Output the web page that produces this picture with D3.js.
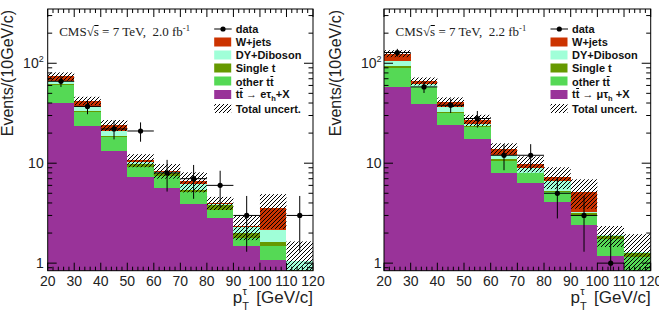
<!DOCTYPE html>
<html>
<head>
<meta charset="utf-8">
<script src="https://cdn.jsdelivr.net/npm/d3@7"></script>
<style>
  body { margin: 0; background: #fff; }
  svg { display: block; }
</style>
</head>
<body>
<div id="chart"></div>
<script>
// bins: low edges in GeV/c, each bin 10 wide
var binLo = [20, 30, 40, 50, 60, 70, 80, 90, 100, 110];
var binW = 10;
var xTickLabels = [20, 30, 40, 50, 60, 70, 80, 90, 100, 110, 120];
var yMajor = [1, 10, 100];

// e + tau_h channel (2.0 fb-1)
var eSignal  = [40, 23.8, 13.1, 7.2, 5.7, 3.9, 2.8, 1.47, 1.08, 0.4];
var eOtherTT = [20.7, 8.6, 5.1, 1.9, 1.8, 1.3, 0.6, 0.31, 0.39, 0.4];
var eSingleT = [1, 0.8, 0.5, 0.8, 0.5, 0.2, 0.45, 0.22, 0.17, 0.05];
var eDY      = [4, 3, 2.3, 0.4, 0.2, 0.8, 0.1, 0.3, 0.51, 0.2];
var eWjets   = [8.3, 6, 3, 0.4, 0.2, 0.4, 0.05, 0.05, 1.4, 0];
var eUnc     = [7, 4, 3, 1.6, 1.4, 1.5, 0.6, 0.65, 1.35, 0.6];
var eData    = [66, 37, 22, 21, 8, 7, 6, 3, null, 3];
var eDataErr = [8.1, 6.1, 4.7, 4.6, 2.8, 2.6, 2.4, 1.7, null, 1.7];

// mu + tau_h channel (2.2 fb-1)
var muSignal  = [57.5, 39.2, 24.2, 17.4, 7.9, 6.3, 4.1, 2.41, 1.18, 0.5];
var muOtherTT = [31.5, 18.3, 7.8, 5.5, 2.7, 1.6, 1.0, 0.63, 0.55, 0.65];
var muSingleT = [4, 1, 0.8, 0.4, 0.4, 0.1, 0.15, 0.1, 0.12, 0.1];
var muDY      = [12, 3, 3.5, 1.2, 1.0, 0.9, 1.45, 0.14, 0.05, 0.05];
var muWjets   = [20, 4.5, 4.7, 2.5, 2.0, 1.0, 0.6, 1.92, 0, 0];
var muUnc     = [10, 6, 4.5, 3.5, 1.8, 1.8, 1.8, 1.7, 0.45, 0.65];
var muData    = [128, 58, 38, 28, 12, 12, 5, 3, 1, null];
var muDataErr = [11.3, 7.6, 6.2, 5.3, 3.5, 3.5, 2.2, 1.7, 1.0, null];

// colours, bottom of the stack first
var stackColors = ["#993399", "#55d955", "#669900", "#a0ffd8", "#cc3300"];

var W = 659, H = 311;
var plotTop = 9, plotBottom = 270.7;
var yMin = 0.84, yMax = 349;

var svg = d3.select("#chart").append("svg")
  .attr("width", W).attr("height", H);
var defs = svg.append("defs");

// hatch for total uncertainty ("////")
defs.append("pattern")
  .attr("id", "hatch")
  .attr("patternUnits", "userSpaceOnUse")
  .attr("width", 4).attr("height", 4)
  .append("path")
  .attr("d", "M-1,1 l2,-2 M0,4 l4,-4 M3,5 l2,-2")
  .attr("stroke", "#000")
  .attr("stroke-width", 1);

// draw an overline above one character of a text element
function overline(textSel, idx, rise) {
  var node = textSel.node();
  var a = node.getStartPositionOfChar(idx);
  var b = node.getEndPositionOfChar(idx);
  textSel.select(function() { return this.parentNode; }).append("line")
    .attr("x1", a.x + 0.5).attr("x2", b.x - 0.3)
    .attr("y1", a.y - rise).attr("y2", a.y - rise)
    .attr("stroke", "#000").attr("stroke-width", 1);
}

function drawPanel(p) {
  var x = d3.scaleLinear().domain([20, 120]).range([p.x0, p.x1]);
  var y = d3.scaleLog().domain([yMin, yMax]).range([plotBottom, plotTop]);
  var g = svg.append("g");

  defs.append("clipPath").attr("id", "clip-" + p.id)
    .append("rect")
    .attr("x", p.x0).attr("y", plotTop)
    .attr("width", p.x1 - p.x0).attr("height", plotBottom - plotTop);
  var plot = g.append("g").attr("clip-path", "url(#clip-" + p.id + ")");

  // stacked histograms
  var layers = [p.signal, p.otherTT, p.singleT, p.dy, p.wjets];
  var base = binLo.map(function() { return 0; });
  layers.forEach(function(vals, k) {
    var rows = binLo.map(function(lo, i) {
      var r = { lo: lo, b: base[i], t: base[i] + vals[i] };
      base[i] = r.t;
      return r;
    }).filter(function(d) { return d.t > d.b; });

    plot.append("g").attr("shape-rendering", "crispEdges")
      .selectAll("rect")
      .data(rows)
      .enter().append("rect")
      .attr("x", function(d) { return x(d.lo); })
      .attr("width", function(d) { return x(d.lo + binW) - x(d.lo); })
      .attr("y", function(d) { return y(d.t); })
      .attr("height", function(d) { return y(Math.max(d.b, 0.1)) - y(d.t); })
      .attr("fill", stackColors[k]);
  });

  // total uncertainty band
  plot.append("g").selectAll("rect")
    .data(binLo.map(function(lo, i) {
      return { lo: lo, hi: base[i] + p.unc[i], low: Math.max(base[i] - p.unc[i], 0.1) };
    }))
    .enter().append("rect")
    .attr("x", function(d) { return x(d.lo); })
    .attr("width", function(d) { return x(d.lo + binW) - x(d.lo); })
    .attr("y", function(d) { return y(d.hi); })
    .attr("height", function(d) { return y(d.low) - y(d.hi); })
    .attr("fill", "url(#hatch)");

  // data points with error bars
  var pts = binLo.map(function(lo, i) {
    return { lo: lo, v: p.data[i], e: p.dataErr[i] };
  }).filter(function(d) { return d.v != null; });

  var dg = plot.append("g").selectAll("g").data(pts).enter().append("g");
  dg.append("line")
    .attr("x1", function(d) { return x(d.lo); })
    .attr("x2", function(d) { return x(d.lo + binW); })
    .attr("y1", function(d) { return y(d.v); })
    .attr("y2", function(d) { return y(d.v); })
    .attr("stroke", "#000").attr("stroke-width", 1);
  dg.append("line")
    .attr("x1", function(d) { return x(d.lo + binW / 2); })
    .attr("x2", function(d) { return x(d.lo + binW / 2); })
    .attr("y1", function(d) { return y(d.v + d.e); })
    .attr("y2", function(d) { return y(Math.max(d.v - d.e, 0.1)); })
    .attr("stroke", "#000").attr("stroke-width", 1);
  dg.append("circle")
    .attr("cx", function(d) { return x(d.lo + binW / 2); })
    .attr("cy", function(d) { return y(d.v); })
    .attr("r", 2.6)
    .attr("fill", "#000");

  // frame
  g.append("rect")
    .attr("x", p.x0).attr("y", plotTop)
    .attr("width", p.x1 - p.x0).attr("height", plotBottom - plotTop)
    .attr("fill", "none").attr("stroke", "#000").attr("stroke-width", 1);

  // x ticks, bottom and top, pointing inward
  var xt = d3.range(20, 121, 2);
  var ticks = g.append("g").attr("stroke", "#000").attr("stroke-width", 1);
  xt.forEach(function(v) {
    var len = (v % 10 === 0) ? 8 : 4;
    ticks.append("line").attr("x1", x(v)).attr("x2", x(v))
      .attr("y1", plotBottom).attr("y2", plotBottom - len);
    ticks.append("line").attr("x1", x(v)).attr("x2", x(v))
      .attr("y1", plotTop).attr("y2", plotTop + len);
  });

  // y ticks (log), left and right
  var yt = [];
  [0.1, 1, 10, 100].forEach(function(dec) {
    for (var m = 1; m <= 9; m++) {
      var v = dec * m;
      if (v >= yMin && v <= yMax) yt.push({ v: v, major: m === 1 });
    }
  });
  yt.forEach(function(t) {
    var len = t.major ? 9 : 4.5;
    ticks.append("line").attr("x1", p.x0).attr("x2", p.x0 + len)
      .attr("y1", y(t.v)).attr("y2", y(t.v));
    ticks.append("line").attr("x1", p.x1).attr("x2", p.x1 - len)
      .attr("y1", y(t.v)).attr("y2", y(t.v));
  });

  // x tick labels
  g.append("g").selectAll("text")
    .data(xTickLabels)
    .enter().append("text")
    .attr("x", function(d) { return x(d); })
    .attr("y", 286)
    .attr("text-anchor", "middle")
    .attr("font-family", "Liberation Sans, Arial, sans-serif")
    .attr("font-size", 14)
    .attr("fill", "#222")
    .text(function(d) { return d; });

  // y tick labels
  yMajor.forEach(function(v) {
    var t = g.append("text")
      .attr("x", p.x0 - p.labelGap)
      .attr("y", y(v) + 5)
      .attr("text-anchor", "end")
      .attr("font-family", "Liberation Sans, Arial, sans-serif")
      .attr("font-size", 14)
      .attr("fill", "#222");
    if (v === 100) {
      t.append("tspan").text("10");
      t.append("tspan").attr("dy", -6).attr("font-size", 9).text("2");
    } else {
      t.text(v);
    }
  });

  // y title
  g.append("text")
    .attr("transform", "translate(" + p.titleX + "," + 10 + ") rotate(-90)")
    .attr("text-anchor", "end")
    .attr("font-family", "Liberation Sans, Arial, sans-serif")
    .attr("font-size", 16)
    .attr("fill", "#222")
    .text("Events/(10GeV/c)");

  // x title: p_T^tau [GeV/c]
  var gv = g.append("text")
    .attr("x", p.x1).attr("y", 303)
    .attr("text-anchor", "end")
    .attr("font-family", "Liberation Sans, Arial, sans-serif")
    .attr("font-size", 17)
    .attr("fill", "#222")
    .text("[GeV/c]");
  var gvW = gv.node().getComputedTextLength();
  var pX = p.x1 - gvW - 23.5;
  g.append("text").attr("x", pX).attr("y", 303)
    .attr("font-family", "Liberation Sans, Arial, sans-serif")
    .attr("font-size", 17).attr("fill", "#222").text("p");
  g.append("text").attr("x", pX + 9.8).attr("y", 294.5)
    .attr("font-family", "Liberation Sans, Arial, sans-serif")
    .attr("font-size", 11).attr("fill", "#222").text("τ");
  g.append("text").attr("x", pX + 9.4).attr("y", 310)
    .attr("font-family", "Liberation Sans, Arial, sans-serif")
    .attr("font-size", 11).attr("fill", "#222").text("T");

  // CMS label
  var cms = g.append("text")
    .attr("x", p.x0 + 11.5).attr("y", 35.5)
    .attr("font-family", "Liberation Serif, Times New Roman, serif")
    .attr("font-size", 13)
    .attr("fill", "#222")
    .style("white-space", "pre");
  cms.append("tspan").text("CMS√s = 7 TeV,  " + p.lumi + " fb");
  cms.append("tspan").attr("dy", -5).attr("font-size", 8.5).text("-1");
  overline(cms, 4, 10);

  // legend
  var lx = p.x0 + 166.5, tx = p.x0 + 188;
  var rowsY = [29, 42, 55, 68, 81, 94.5, 108.5];
  var leg = g.append("g")
    .attr("font-family", "Liberation Sans, Arial, sans-serif")
    .attr("font-size", 11)
    .attr("font-weight", "bold")
    .attr("fill", "#111");

  leg.append("line").attr("x1", lx).attr("x2", lx + 17.5)
    .attr("y1", rowsY[0]).attr("y2", rowsY[0])
    .attr("stroke", "#000").attr("stroke-width", 1);
  leg.append("circle").attr("cx", lx + 8.8).attr("cy", rowsY[0]).attr("r", 2.6).attr("fill", "#000");

  var swatchColors = [stackColors[4], stackColors[3], stackColors[2], stackColors[1], stackColors[0], "url(#hatch)"];
  swatchColors.forEach(function(c, k) {
    leg.append("rect")
      .attr("x", lx).attr("y", rowsY[k + 1] - 4.5)
      .attr("width", 17).attr("height", 9)
      .attr("fill", c);
  });

  var labels = ["data", "W+jets", "DY+Diboson", "Single t"];
  labels.forEach(function(s, k) {
    leg.append("text").attr("x", tx).attr("y", rowsY[k] + 4).text(s);
  });
  var other = leg.append("text").attr("x", tx).attr("y", rowsY[4] + 5).text("other tt");
  overline(other, 7, 9.5);

  var sig = leg.append("text").attr("x", tx).attr("y", rowsY[5] + 3.5);
  sig.append("tspan").text("tt ");
  sig.append("tspan").attr("font-weight", "normal").text("→");
  sig.append("tspan").text(" " + p.lep + "τ");
  sig.append("tspan").attr("dy", 2.5).attr("font-size", 7.5).text("h");
  sig.append("tspan").attr("dy", -2.5).text(p.lep === "e" ? "+X" : " +X");
  overline(sig, 1, 9.5);

  leg.append("text").attr("x", tx).attr("y", rowsY[6] + 4).text("Total uncert.");
}

drawPanel({
  id: "e", x0: 47.7, x1: 313, titleX: 13, labelGap: 4, lumi: "2.0", lep: "e",
  signal: eSignal, otherTT: eOtherTT, singleT: eSingleT, dy: eDY, wjets: eWjets,
  unc: eUnc, data: eData, dataErr: eDataErr
});
drawPanel({
  id: "mu", x0: 384, x1: 650.7, titleX: 341, labelGap: 2.5, lumi: "2.2", lep: "μ",
  signal: muSignal, otherTT: muOtherTT, singleT: muSingleT, dy: muDY, wjets: muWjets,
  unc: muUnc, data: muData, dataErr: muDataErr
});
</script>
</body>
</html>
